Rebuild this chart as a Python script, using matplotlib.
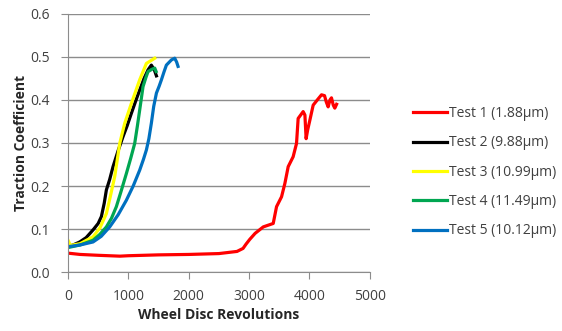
import numpy as np
import matplotlib.pyplot as plt

plt.rcParams['font.family'] = ['Open Sans', 'DejaVu Sans']

# Test 1 (1.88um)
rev1 = [0, 200, 500, 860, 1000, 1500, 2000, 2500, 2800, 2900, 2950, 3011, 3100, 3235,
        3400, 3455, 3538, 3593, 3648, 3730, 3786, 3813, 3896, 3925, 3945, 3970, 4007,
        4062, 4130, 4200, 4250, 4280, 4310, 4340, 4365, 4395, 4420, 4450]
tc1 = [0.044, 0.041, 0.039, 0.037, 0.038, 0.040, 0.041, 0.043, 0.048, 0.055, 0.065, 0.076,
       0.090, 0.105, 0.113, 0.152, 0.175, 0.206, 0.245, 0.268, 0.299, 0.357, 0.373, 0.365,
       0.310, 0.330, 0.353, 0.388, 0.400, 0.412, 0.410, 0.395, 0.384, 0.400, 0.405, 0.388,
       0.381, 0.390]

# Test 2 (9.88um)
rev2 = [0, 100, 194, 300, 415, 500, 553, 600, 636, 690, 746, 830, 912, 980, 1050, 1120,
        1188, 1260, 1326, 1381, 1430, 1465]
tc2 = [0.059, 0.064, 0.070, 0.080, 0.098, 0.113, 0.129, 0.160, 0.191, 0.215, 0.245, 0.282,
       0.315, 0.340, 0.369, 0.397, 0.423, 0.450, 0.470, 0.481, 0.470, 0.456]

# Test 3 (10.99um)
rev3 = [0, 40, 200, 415, 530, 636, 700, 774, 857, 940, 1050, 1188, 1299, 1380, 1437]
tc3 = [0.074, 0.062, 0.066, 0.082, 0.103, 0.136, 0.175, 0.222, 0.299, 0.346, 0.392, 0.447,
       0.485, 0.492, 0.497]

# Test 4 (11.49um)
rev4 = [0, 200, 415, 530, 636, 720, 801, 880, 967, 1040, 1105, 1150, 1188, 1243, 1290,
        1326, 1400, 1437, 1460]
tc4 = [0.057, 0.063, 0.074, 0.088, 0.105, 0.125, 0.152, 0.188, 0.229, 0.265, 0.299, 0.340,
       0.377, 0.431, 0.452, 0.466, 0.472, 0.474, 0.466]

# Test 5 (10.12um)
rev5 = [0, 200, 415, 550, 691, 830, 967, 1080, 1188, 1250, 1299, 1340, 1381, 1420, 1465,
        1510, 1548, 1590, 1630, 1713, 1768, 1800, 1823]
tc5 = [0.059, 0.063, 0.070, 0.083, 0.105, 0.133, 0.167, 0.200, 0.237, 0.262, 0.284, 0.310,
       0.346, 0.385, 0.416, 0.432, 0.447, 0.465, 0.481, 0.493, 0.497, 0.488, 0.478]

labels = ['Test 1 (1.88µm)', 'Test 2 (9.88µm)', 'Test 3 (10.99µm)',
          'Test 4 (11.49µm)', 'Test 5 (10.12µm)']
colors = ['#ff0000', '#000000', '#ffff00', '#00a651', '#0070c0']

fig = plt.figure(figsize=(5.62, 3.31), dpi=100)
ax = fig.add_axes([0.121, 0.178, 0.537, 0.780])

for x, y, c, lab in zip([rev1, rev2, rev3, rev4, rev5], [tc1, tc2, tc3, tc4, tc5], colors, labels):
    ax.plot(x, y, color=c, lw=2.3, label=lab, solid_joinstyle='round')

ax.set_xlim(0, 5000)
ax.set_ylim(0, 0.6)
ax.set_xticks(np.arange(0, 5001, 1000))
ax.set_yticks(np.arange(0, 0.61, 0.1))
ax.set_yticklabels([f'{v:.1f}' for v in np.arange(0, 0.61, 0.1)])
ax.grid(axis='y', color='#8c8c8c', lw=1)
ax.set_axisbelow(True)
for s in ['top', 'right']:
    ax.spines[s].set_visible(False)
for s in ['left', 'bottom']:
    ax.spines[s].set_color('#8c8c8c')
ax.tick_params(colors='#8c8c8c', labelcolor='#404040', labelsize=10, length=5)
ax.tick_params(axis='x', pad=7)
ax.tick_params(axis='y', pad=8)

ax.set_xlabel('Wheel Disc Revolutions', fontsize=10, fontweight='bold', color='#262626',
              labelpad=3)
ax.set_ylabel('Traction Coefficient', fontsize=10, fontweight='bold', color='#262626',
              labelpad=2)

fig.legend(loc='upper left', bbox_to_anchor=(0.713, 0.717), frameon=False, fontsize=10,
           handlelength=2.4, handletextpad=0.15, labelspacing=1.03, labelcolor='#404040')

fig.savefig('out.png', dpi=100)
